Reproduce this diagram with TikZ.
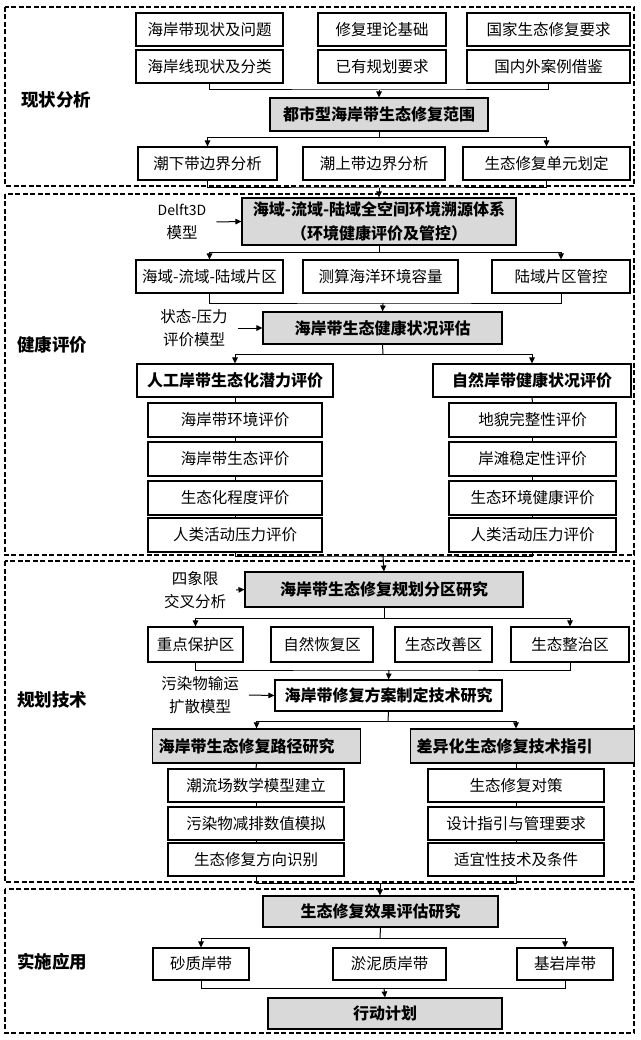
\documentclass[tikz,border=0pt]{standalone}
\usepackage{fontspec}
\setmainfont{Noto Sans CJK SC}
\usetikzlibrary{arrows.meta}
\definecolor{boxgray}{RGB}{217,217,217}

\begin{document}
\begin{tikzpicture}[x=1pt,y=-1pt,
    box/.style={draw, line width=1.1pt, fill=white, inner sep=1pt, font=\fontsize{15.5}{19}\selectfont},
    gbox/.style={box, fill=boxgray, font=\bfseries\fontsize{16}{24}\selectfont},
    hbox/.style={box, font=\bfseries\fontsize{16}{20}\selectfont},
    frame/.style={line width=1.5pt, dash pattern=on 5pt off 2.5pt},
    sect/.style={font=\bfseries\fontsize{17.5}{20}\selectfont},
    side/.style={align=center, inner xsep=10pt, font=\fontsize{15.5}{23}\selectfont},
    ln/.style={line width=1pt},
    arr/.style={ln, -{Triangle[length=6pt,width=5.5pt]}}]

    % Box macro:
    % #1 = name, #2 = style
    % #3,#4 = top left, #5,#6 = bottom right
    % #7 = text
    \newcommand{\cbox}[7]{%
        \node[#2, minimum width={#5-#3}, minimum height={#6-#4}]
            (#1) at ({(#3+#5)/2},{(#4+#6)/2}) {#7};%
    }

    \useasboundingbox (0,0) rectangle (640,1040);

    % dashed frames
    \draw[frame] (5,7) rectangle (634,186);
    \draw[frame] (5,194) rectangle (634,555);
    \draw[frame] (5,561) rectangle (634,882);
    \draw[frame] (5,889) rectangle (634,1033);

    % section labels
    \node[sect] (lab1) at (56,100) {现状分析};
    \node[sect] (lab2) at (52,345) {健康评价};
    \node[sect] (lab3) at (52,700) {规划技术};
    \node[sect] (lab4) at (52,962) {实施应用};

    % ---- 现状分析 ----
    \cbox{a1}{box}{136}{13}{283}{46}{海岸带现状及问题}
    \cbox{a2}{box}{318}{13}{446}{46}{修复理论基础}
    \cbox{a3}{box}{467}{13}{630}{46}{国家生态修复要求}
    \cbox{b1}{box}{136}{50}{283}{83}{海岸线现状及分类}
    \cbox{b2}{box}{318}{50}{446}{83}{已有规划要求}
    \cbox{b3}{box}{467}{50}{630}{83}{国内外案例借鉴}
    \cbox{g1}{gbox}{270}{98}{488}{131}{都市型海岸带生态修复范围}
    \cbox{c1}{box}{138}{147}{277}{180}{潮下带边界分析}
    \cbox{c2}{box}{303}{147}{445}{180}{潮上带边界分析}
    \cbox{c3}{box}{463}{147}{630}{180}{生态修复单元划定}

    \coordinate (j1) at (379,90);
    \coordinate (j2) at (379,138);
    \coordinate (j3) at (379,188);
    \draw[ln] (b1.south) |- (j1) -| (b3.south);
    \draw[arr] (j1) -- (g1.north);
    \draw[ln] (g1.south) -- (j2);
    \draw[arr] (j2) -| (c1.north);
    \draw[arr] (j2) -| (c3.north);
    \draw[ln] (c1.south) |- (j3) -| (c3.south);

    % ---- 健康评价 ----
    \cbox{g2}{gbox, align=center}{242}{198}{516}{245}{海域-流域-陆域全空间环境溯源体系\\（环境健康评价及管控）}
    \node[side] (m1) at (182,222) {{\fontsize{14}{23}\selectfont Delft3D}\\模型};
    \draw[arr] (m1.east) -- (g2.west);
    \draw[arr] (j3) -- (j3 |- g2.north);

    \cbox{d1}{box}{136}{260}{283}{293}{海域-流域-陆域片区}
    \cbox{d2}{box}{303}{260}{458}{293}{测算海洋环境容量}
    \cbox{d3}{box}{492}{260}{630}{293}{陆域片区管控}
    \coordinate (j4) at (379,253);
    \coordinate (j5) at (383,303);
    \draw[ln] (g2.south) -- (j4);
    \draw[arr] (j4) -| (d1.north);
    \draw[arr] (j4) -| (d3.north);
    \draw[ln] (d1.south) |- (j5) -| (d3.south);

    \cbox{g3}{gbox}{263}{312}{502}{344}{海岸带生态健康状况评估}
    \node[side] (m2) at (194,328) {状态-压力\\评价模型};
    \draw[arr] (m2.east) -- (g3.west);
    \draw[arr] (j5) -- (g3.north);

    \cbox{h1}{hbox}{137}{364}{333}{397}{人工岸带生态化潜力评价}
    \cbox{h2}{hbox}{433}{364}{631}{397}{自然岸带健康状况评价}
    \coordinate (j6) at (383,354);
    \draw[ln] (g3.south) -- (j6);
    \draw[arr] (j6) -| (h1.north);
    \draw[arr] (j6) -| (h2.north);

    \foreach \y/\t [count=\i] in {403/海岸带环境评价, 442/海岸带生态评价, 481/生态化程度评价, 518/人类活动压力评价}{
        \cbox{p\i}{box}{148}{\y}{322}{\y+34}{\t}
    }
    \foreach \y/\t [count=\i] in {403/地貌完整性评价, 442/岸滩稳定性评价, 481/生态环境健康评价, 518/人类活动压力评价}{
        \cbox{q\i}{box}{449}{\y}{616}{\y+34}{\t}
    }
    \draw[ln] (h1.south) -- (p1.north);
    \draw[ln] (h2.south) -- (q1.north);
    \foreach \i/\k in {1/2, 2/3, 3/4}{
        \draw[ln] (p\i.south) -- (p\k.north);
        \draw[ln] (q\i.south) -- (q\k.north);
    }
    \coordinate (j7) at (383,556);
    \draw[ln] (p4.south) |- (j7) -| (q4.south);

    % ---- 规划技术 ----
    \cbox{g4}{gbox}{245}{572}{523}{607}{海岸带生态修复规划分区研究}
    \node[side] (m3) at (195,590) {四象限\\交叉分析};
    \draw[arr] (m3.east) -- (g4.west);
    \draw[arr] (j7) -- (g4.north);

    \cbox{e1}{box}{148}{627}{243}{662}{重点保护区}
    \cbox{e2}{box}{271}{627}{373}{662}{自然恢复区}
    \cbox{e3}{box}{395}{627}{492}{662}{生态改善区}
    \cbox{e4}{box}{511}{627}{629}{662}{生态整治区}
    \coordinate (j8) at (384,618);
    \coordinate (j9) at (389,670);
    \draw[ln] (g4.south) -- (j8);
    \draw[arr] (j8) -| (e1.north);
    \draw[arr] (j8) -| (e4.north);
    \draw[ln] (e1.south) |- (j9) -| (e4.south);

    \cbox{g5}{hbox}{275}{680}{502}{711}{海岸带修复方案制定技术研究}
    \node[side] (m4) at (200,695) {污染物输运\\扩散模型};
    \draw[arr] (m4.east) -- (g5.west);
    \draw[arr] (j9) -- (g5.north);

    \node[gbox, anchor=west, minimum height=34, text width=196, inner xsep=6pt, align=left]
        (k1) at (152,746) {海岸带生态修复路径研究};
    \node[gbox, anchor=west, minimum height=34, text width=212, inner xsep=6pt, align=left]
        (k2) at (410,746) {差异化生态修复技术指引};
    \foreach \y/\t [count=\i] in {769/潮流场数学模型建立, 807/污染物减排数值模拟, 843/生态修复方向识别}{
        \cbox{l\i}{box}{168}{\y}{344}{\y+33}{\t}
    }
    \foreach \y/\t [count=\i] in {769/生态修复对策, 807/设计指引与管理要求, 843/适宜性技术及条件}{
        \cbox{n\i}{box}{428}{\y}{604}{\y+33}{\t}
    }
    \coordinate (j10) at (388,721);
    \draw[ln] (g5.south) -- (j10);
    \draw[arr] (j10) -| (k1.north);
    \draw[arr] (j10) -| (n1.north |- k2.north);
    \draw[ln] (k1.south) -- (l1.north);
    \draw[ln] (n1.north |- k2.south) -- (n1.north);
    \foreach \i/\k in {1/2, 2/3}{
        \draw[ln] (l\i.south) -- (l\k.north);
        \draw[ln] (n\i.south) -- (n\k.north);
    }
    \coordinate (j11) at (380,883);
    \draw[ln] (l3.south) |- (j11) -| (n3.south);

    % ---- 实施应用 ----
    \cbox{g6}{gbox}{263}{896}{498}{927}{生态修复效果评估研究}
    \draw[arr] (j11) -- (j11 |- g6.north);
    \cbox{o1}{box}{153}{948}{249}{980}{砂质岸带}
    \cbox{o2}{box}{333}{948}{446}{980}{淤泥质岸带}
    \cbox{o3}{box}{517}{948}{613}{980}{基岩岸带}
    \coordinate (j12) at (380,938);
    \coordinate (j13) at (384,988);
    \draw[ln] (g6.south) -- (j12);
    \draw[arr] (j12) -| (o1.north);
    \draw[arr] (j12) -| (o3.north);
    \draw[ln] (o1.south) |- (j13) -| (o3.south);

    \cbox{g7}{gbox}{268}{998}{502}{1029}{行动计划}
    \draw[arr] (j13) -- (g7.north);
\end{tikzpicture}
\end{document}
